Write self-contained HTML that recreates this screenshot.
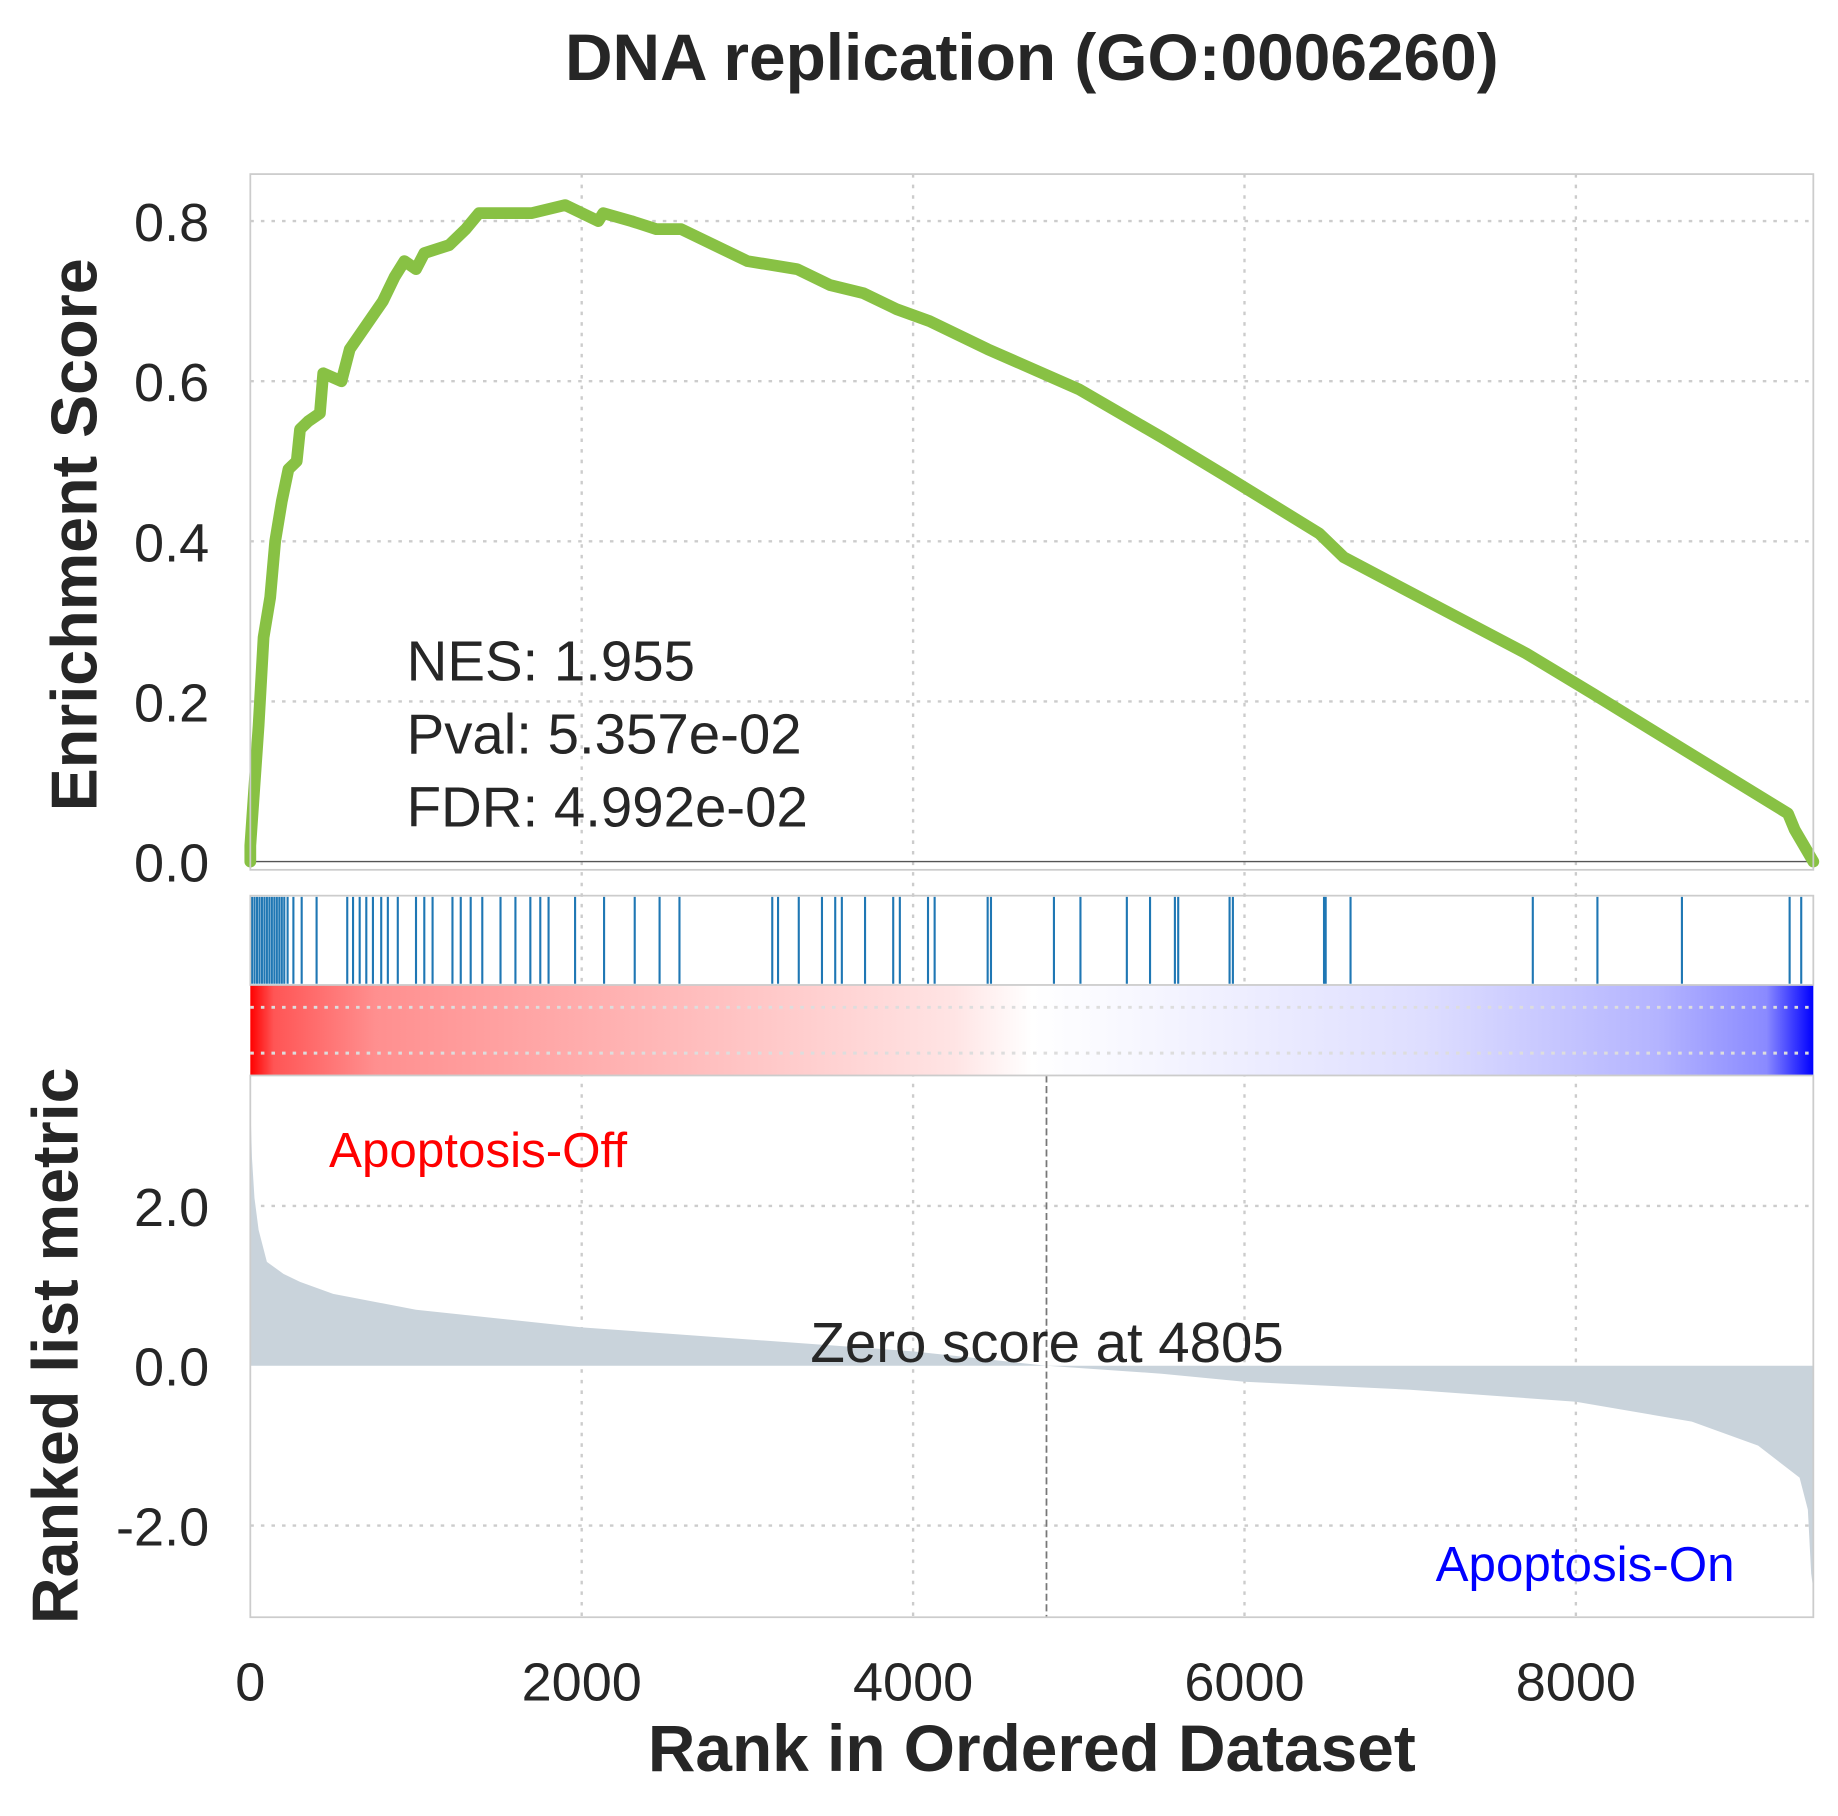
<!DOCTYPE html>
<html><head><meta charset="utf-8">
<style>
html,body{margin:0;padding:0;background:#fff;}
svg{display:block;font-family:"Liberation Sans",sans-serif;}
</style></head>
<body>
<svg id="chart" width="1838" height="1816" viewBox="0 0 1564 1545" xmlns="http://www.w3.org/2000/svg">
<defs>
<linearGradient id="cbar" x1="0" x2="1" y1="0" y2="0">
<stop offset="0" stop-color="#ff0000"/>
<stop offset="0.015" stop-color="#ff5555"/>
<stop offset="0.08" stop-color="#ff8f8f"/>
<stop offset="0.25" stop-color="#ffb5b5"/>
<stop offset="0.45" stop-color="#ffe4e4"/>
<stop offset="0.5" stop-color="#ffffff"/>
<stop offset="0.56" stop-color="#f8f8ff"/>
<stop offset="0.75" stop-color="#dedeff"/>
<stop offset="0.9" stop-color="#b4b4ff"/>
<stop offset="0.97" stop-color="#8a8aff"/>
<stop offset="1" stop-color="#0000ff"/>
</linearGradient>
</defs>
<text x="878" y="68" font-size="56" font-weight="bold" fill="#262626" text-anchor="middle">DNA replication (GO:0006260)</text>
<g id="grid"></g>
<rect x="213" y="838" width="1330" height="77" fill="url(#cbar)"/>
<line x1="213" x2="1543" y1="857" y2="857" stroke="#ddd" stroke-width="2.5" stroke-dasharray="3,6"/>
<line x1="213" x2="1543" y1="896" y2="896" stroke="#ddd" stroke-width="2.5" stroke-dasharray="3,6"/>
<g id="marks"></g>
<rect x="213" y="148" width="1330" height="592" fill="none" stroke="#ccc" stroke-width="1.5"/>
<rect x="213" y="762" width="1330" height="76" fill="none" stroke="#ccc" stroke-width="1.5"/>
<rect x="213" y="915" width="1330" height="461" fill="none" stroke="#ccc" stroke-width="1.5"/>
<g id="labels"></g>
<text x="346" y="579" font-size="48" fill="#262626">NES: 1.955</text>
<text x="346" y="641" font-size="48" fill="#262626">Pval: 5.357e-02</text>
<text x="346" y="703" font-size="48" fill="#262626">FDR: 4.992e-02</text>
<text x="280" y="993" font-size="42" fill="#ff0000">Apoptosis-Off</text>
<text x="1476" y="1345" font-size="42" fill="#0000ff" text-anchor="end">Apoptosis-On</text>
<text x="891" y="1159" font-size="48" fill="#262626" text-anchor="middle">Zero score at 4805</text>
<text transform="translate(82,455) rotate(-90)" font-size="55" font-weight="bold" fill="#262626" text-anchor="middle">Enrichment Score</text>
<text transform="translate(66,1145) rotate(-90)" font-size="55" font-weight="bold" fill="#262626" text-anchor="middle">Ranked list metric</text>
<text x="878" y="1507" font-size="56" font-weight="bold" fill="#262626" text-anchor="middle">Rank in Ordered Dataset</text>
</svg>
<script>
const N = 9433;
const esRanks = [0,0,10,50,80,120,150,190,230,280,300,350,420,440,550,600,700,800,870,930,1000,1050,1200,1300,1380,1500,1700,1900,2000,2100,2130,2300,2450,2600,3000,3300,3500,3700,3900,4100,4450,5000,5500,5900,6450,6600,7700,8100,8650,9280,9320,9433];
const esValues = [0,0.02,0.05,0.17,0.28,0.33,0.40,0.45,0.49,0.50,0.54,0.55,0.56,0.61,0.60,0.64,0.67,0.70,0.73,0.75,0.74,0.76,0.77,0.79,0.81,0.81,0.81,0.82,0.81,0.80,0.81,0.80,0.79,0.79,0.75,0.74,0.72,0.71,0.69,0.675,0.64,0.59,0.53,0.48,0.41,0.38,0.26,0.21,0.14,0.06,0.04,0.0];
const hitRanks = [10,25,40,55,70,85,100,115,130,145,160,175,190,205,225,260,310,400,585,620,660,700,740,790,830,890,1000,1050,1100,1220,1270,1330,1400,1510,1600,1690,1750,1800,1960,2135,2320,2470,2590,3150,3185,3310,3450,3530,3570,3710,3880,3920,4090,4130,4450,4470,4850,5010,5290,5430,5580,5600,5910,5930,6480,6490,6640,7740,8130,8640,9290,9360];
const metricRanks = [0,10,25,50,100,200,300,500,1000,2000,3000,4000,4805,5500,6000,7000,8000,8700,9100,9350,9400,9420,9433];
const metricValues = [3.3,2.6,2.1,1.7,1.3,1.15,1.05,0.9,0.7,0.48,0.33,0.18,0.0,-0.1,-0.2,-0.3,-0.45,-0.7,-1.0,-1.4,-1.8,-2.6,-2.8];
const xTicks = [0,2000,4000,6000,8000];
const esTicks = [0,0.2,0.4,0.6,0.8];
const esTickLabels = ["0.0","0.2","0.4","0.6","0.8"];
const metricTicks = [-2,0,2];
const metricTickLabels = ["-2.0","0.0","2.0"];
const zeroScore = 4805;

const NS = "http://www.w3.org/2000/svg";
const X = r => 213 + r * (1330 / N);
const Yes = v => 733 - v * (545 / 0.8);
const Ym = v => 1162 - v * 68;
function mk(tag, attrs, parent){const e=document.createElementNS(NS,tag);for(const k in attrs)e.setAttribute(k,attrs[k]);parent.appendChild(e);return e;}
const grid=document.getElementById('grid'), marks=document.getElementById('marks'), labels=document.getElementById('labels');

xTicks.forEach(t=>{
  if(t===0) return;
  const l=mk('line',{x1:X(t),x2:X(t),y1:148,y2:1376,stroke:'#ccc','stroke-width':2,'stroke-dasharray':'3,6'},grid);
  
  
});
esTicks.forEach((t,i)=>{
  if(t!==0){const l=mk('line',{x1:213,x2:1543,y1:Yes(t),y2:Yes(t),stroke:'#ccc','stroke-width':2,'stroke-dasharray':'3,6'},grid);
  
  }
  const tx=mk('text',{x:178,y:Yes(t)+17,'font-size':46,fill:'#262626','text-anchor':'end'},labels);
  tx.textContent=esTickLabels[i];
  
  
});
metricTicks.forEach((t,i)=>{
  if(t!==0){const l=mk('line',{x1:213,x2:1543,y1:Ym(t),y2:Ym(t),stroke:'#ccc','stroke-width':2,'stroke-dasharray':'3,6'},grid);
  
  }
  const tx=mk('text',{x:178,y:Ym(t)+17,'font-size':46,fill:'#262626','text-anchor':'end'},labels);
  tx.textContent=metricTickLabels[i];
  
  
});
xTicks.forEach(t=>{
  const tx=mk('text',{x:X(t),y:1447,'font-size':46,fill:'#262626','text-anchor':'middle'},labels);
  tx.textContent=String(t);
  
  
});
const zl=mk('line',{x1:213,x2:1543,y1:Yes(0),y2:Yes(0),stroke:'#555','stroke-width':1.2},marks);


let d='M'+X(metricRanks[0])+','+Ym(0);
metricRanks.forEach((r,i)=>{d+=' L'+X(r)+','+Ym(metricValues[i]);});
d+=' L'+X(metricRanks[metricRanks.length-1])+','+Ym(0)+' Z';
const area=mk('path',{d:d,fill:'#c9d3db',stroke:'none'},marks);


const zs=mk('line',{x1:X(zeroScore),x2:X(zeroScore),y1:915,y2:1376,stroke:'#777','stroke-width':1.5,'stroke-dasharray':'6,3'},marks);


hitRanks.forEach(r=>{
  const h=mk('line',{x1:X(r),x2:X(r),y1:763,y2:837,stroke:'#1f77b4','stroke-width':1.8},marks);
  
  
});
const pts=esRanks.map((r,i)=>X(r)+','+Yes(esValues[i])).join(' ');
const es=mk('polyline',{points:pts,fill:'none',stroke:'#88c144','stroke-width':10,'stroke-linejoin':'round','stroke-linecap':'round'},marks);


</script>
</body></html>
